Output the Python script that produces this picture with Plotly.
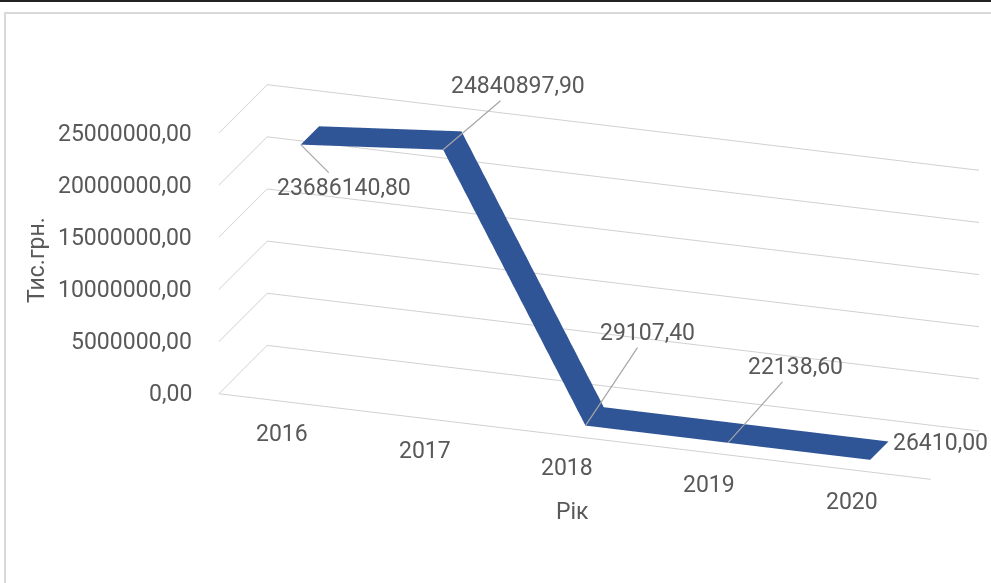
import plotly.graph_objects as go

# ---- data ----
years = ["2016", "2017", "2018", "2019", "2020"]
values = [23686140.80, 24840897.90, 29107.40, 22138.60, 26410.00]
z_tick_values = [0, 5000000, 10000000, 15000000, 20000000, 25000000]
x_title = "Рік"
y_title = "Тис.грн."

# ---- style / layout ----
BLUE = "#2F5597"
TEXT = "#595959"
GRID = "#D0D0D0"
FONT = "Roboto"
FS = 23
ribbon_depth = [0.22, 0.6]           # ribbon position inside the depth axis (0..1)
label_offsets = [(43, 43), (75, -64), (62, -93), (68, -76), None]  # pixel offsets of data labels
last_label_shift = (70, 17)


def fmt(v):
    return f"{v:.2f}".replace(".", ",")


idx = list(range(len(years)))
txt_font = dict(family=FONT, size=FS, color=TEXT)

fig = go.Figure()
fig.add_trace(go.Surface(
    x=idx, y=ribbon_depth, z=[values, values],
    colorscale=[[0, BLUE], [1, BLUE]], showscale=False,
    lighting=dict(ambient=1.0, diffuse=0.12, specular=0.0, roughness=1, fresnel=0),
    hoverinfo="skip",
    contours=dict(x=dict(highlight=False), y=dict(highlight=False), z=dict(highlight=False)),
))

annotations3d = []
# data labels
for i, v in enumerate(values):
    off = label_offsets[i]
    if off is not None:
        annotations3d.append(dict(
            x=idx[i], y=ribbon_depth[0], z=v, text=fmt(v),
            showarrow=True, arrowhead=0, arrowwidth=1.2, arrowcolor="#A6A6A6",
            ax=off[0], ay=off[1], font=txt_font,
        ))
    else:
        annotations3d.append(dict(
            x=idx[i], y=ribbon_depth[0], z=v, text=fmt(v),
            showarrow=False, xshift=last_label_shift[0], yshift=last_label_shift[1],
            font=txt_font,
        ))
# value-axis tick labels (at the front-left edge of the box)
for t in z_tick_values:
    annotations3d.append(dict(
        x=-0.5, y=0, z=t, text=fmt(t), showarrow=False,
        xanchor="right", xshift=-25, font=txt_font,
    ))
# category labels (under the front edge of the floor)
for i, yr in enumerate(years):
    annotations3d.append(dict(
        x=idx[i], y=0, z=0, text=yr, showarrow=False,
        xshift=-8, yshift=-31, font=txt_font,
    ))

axis_common = dict(showbackground=False, showspikes=False, zeroline=False, ticks="",
                   title=dict(text=""), showticklabels=False)

fig.update_layout(
    width=991, height=583,
    margin=dict(l=0, r=0, t=0, b=0),
    paper_bgcolor="white",
    font=txt_font,
    showlegend=False,
    scene=dict(
        domain=dict(x=[209 / 991, 989 / 991], y=[1 - 560 / 583, 1 - 4 / 583]),
        xaxis=dict(**axis_common, range=[-0.5, len(years) - 0.5],
                   showgrid=False, showline=True, linecolor=GRID, linewidth=2),
        yaxis=dict(**axis_common, range=[0, 1], showgrid=False, showline=False),
        zaxis=dict(**axis_common, range=[0, z_tick_values[-1]], tickvals=z_tick_values,
                   showgrid=True, gridcolor=GRID, gridwidth=2, showline=False),
        aspectmode="manual",
        aspectratio=dict(x=2.71, y=0.53, z=1),
        camera=dict(
            eye=dict(x=0.741, y=-2.139, z=0.838),
            center=dict(x=0, y=0, z=0),
            up=dict(x=0, y=0, z=1),
            projection=dict(type="orthographic"),
        ),
        annotations=annotations3d,
        bgcolor="rgba(0,0,0,0)",
    ),
    annotations=[
        dict(text=y_title, x=36 / 991, y=1 - 260 / 583, xref="paper", yref="paper",
             xanchor="center", yanchor="middle",
             showarrow=False, textangle=-90, font=txt_font),
        dict(text=x_title, x=572 / 991, y=1 - 511 / 583, xref="paper", yref="paper",
             xanchor="center", yanchor="middle",
             showarrow=False, font=txt_font),
    ],
    shapes=[
        dict(type="rect", xref="paper", yref="paper", x0=5 / 991, x1=1.02, y0=-0.02,
             y1=1 - 13 / 583, line=dict(color="#D9D9D9", width=2), layer="below"),
        dict(type="line", xref="paper", yref="paper", x0=0, x1=1, y0=1 - 1 / 583,
             y1=1 - 1 / 583, line=dict(color="#222222", width=2)),
    ],
)

fig.write_html("out.html", config={"displayModeBar": False},
               post_script="document.body.style.margin='0';")
